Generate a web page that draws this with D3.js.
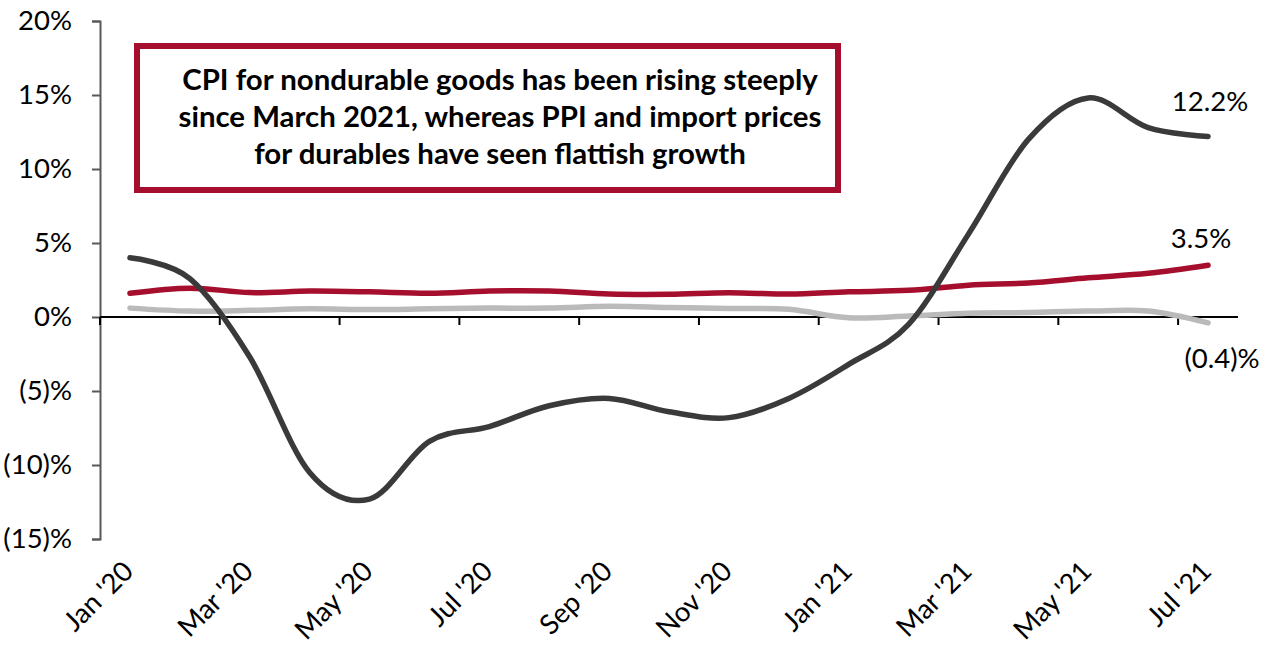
<!DOCTYPE html>
<html>
<head>
<meta charset="utf-8">
<script src="https://cdn.jsdelivr.net/npm/d3@7"></script>
<style>
  html, body { margin: 0; padding: 0; background: #fff; }
  svg { display: block; font-family: Lato, "Open Sans", sans-serif; }
</style>
</head>
<body>
<svg id="chart" width="1269" height="661"></svg>
<script>
const months = ["Jan '20","Feb '20","Mar '20","Apr '20","May '20","Jun '20","Jul '20","Aug '20","Sep '20","Oct '20","Nov '20","Dec '20","Jan '21","Feb '21","Mar '21","Apr '21","May '21","Jun '21","Jul '21"];
const tickLabels = ["Jan '20","Mar '20","May '20","Jul '20","Sep '20","Nov '20","Jan '21","Mar '21","May '21","Jul '21"];
const yTicks = [-15, -10, -5, 0, 5, 10, 15, 20];
const cpiNondurable = [4.0, 2.6, -2.7, -10.5, -12.3, -8.4, -7.4, -6.0, -5.5, -6.4, -6.8, -5.5, -3.2, -0.5, 5.6, 12.0, 14.8, 12.8, 12.2];
const ppiDurable = [1.6, 1.95, 1.65, 1.75, 1.7, 1.6, 1.75, 1.75, 1.55, 1.53, 1.64, 1.55, 1.7, 1.8, 2.15, 2.3, 2.65, 2.95, 3.5];
const importDurable = [0.6, 0.4, 0.45, 0.55, 0.5, 0.55, 0.6, 0.6, 0.72, 0.65, 0.58, 0.52, -0.05, 0.07, 0.25, 0.3, 0.4, 0.4, -0.4];
const titleLines = ["CPI for nondurable goods has been rising steeply", "since March 2021, whereas PPI and import prices", "for durables have seen flattish growth"];

(function () {
const svg = d3.select("#chart");
const mLeft = 100, mRight = 1238, mTop = 21, mBottom = 539;

const x = d3.scaleBand().domain(months).range([mLeft, mRight]).padding(0);
const xc = m => x(m) + x.bandwidth() / 2;
const y = d3.scaleLinear().domain([-15, 20]).range([mBottom, mTop]);
const fmt = v => v < 0 ? `(${-v})%` : `${v}%`;
const fmt1 = v => v < 0 ? `(${d3.format(".1f")(-v)})%` : `${d3.format(".1f")(v)}%`;

// Y axis
const yAxis = svg.append("g")
  .attr("transform", `translate(${mLeft},0)`)
  .call(d3.axisLeft(y).tickValues(yTicks).tickFormat(fmt).tickSize(8).tickSizeOuter(8).tickPadding(20));
yAxis.select(".domain").attr("stroke", "#595959").attr("stroke-width", 2);
yAxis.selectAll(".tick line").attr("stroke", "#595959").attr("stroke-width", 2);
yAxis.selectAll(".tick text").attr("fill", "#000").style("font-size", "27.5px").style("font-family", "Lato, sans-serif");

// X axis (zero line)
const xAxis = svg.append("g").attr("transform", `translate(0,${y(0)})`);
xAxis.append("line").attr("x1", mLeft).attr("x2", mRight).attr("y1", 0).attr("y2", 0)
  .attr("stroke", "#000").attr("stroke-width", 2);
xAxis.selectAll("line.tk").data(months.filter((m, i) => i % 2 === 0)).join("line")
  .attr("class", "tk")
  .attr("x1", d => x(d)).attr("x2", d => x(d))
  .attr("y1", 0).attr("y2", 8).attr("stroke", "#000").attr("stroke-width", 2);

// X labels
svg.append("g").selectAll("text").data(tickLabels).join("text")
  .attr("transform", d => `translate(${xc(d) + 5},573) rotate(-45)`)
  .attr("text-anchor", "end")
  .style("font-size", "27.5px")
  .attr("fill", "#000")
  .text(d => d);

// Lines
const line = d3.line().x((d, i) => xc(months[i])).y(d => y(d)).curve(d3.curveCardinal.tension(0));
const series = [
  { name: "importDurable", values: importDurable, color: "#BABABA" },
  { name: "ppiDurable", values: ppiDurable, color: "#A50F2D" },
  { name: "cpiNondurable", values: cpiNondurable, color: "#3A3A3A" }
];
svg.append("g").selectAll("path").data(series).join("path")
  .attr("d", d => line(d.values))
  .attr("fill", "none")
  .attr("stroke", d => d.color)
  .attr("stroke-width", 5.5)
  .attr("stroke-linecap", "round")
  .attr("stroke-linejoin", "round");

// End labels
const last = months.length - 1;
const endLabels = [
  { v: cpiNondurable[last], dx: 2, dy: -25 },
  { v: ppiDurable[last], dx: -7, dy: -17 },
  { v: importDurable[last], dx: 14, dy: 45 }
];
svg.append("g").selectAll("text").data(endLabels).join("text")
  .attr("x", d => xc(months[last]) + d.dx)
  .attr("y", d => y(d.v) + d.dy)
  .attr("text-anchor", "middle")
  .style("font-size", "27.5px")
  .attr("fill", "#000")
  .text(d => fmt1(d.v));

// Title box
const box = svg.append("g");
box.append("rect").attr("x", 137).attr("y", 46).attr("width", 701).attr("height", 144)
  .attr("fill", "#fff").attr("stroke", "#A50F2D").attr("stroke-width", 6);
box.selectAll("text").data(titleLines).join("text")
  .attr("x", 500)
  .attr("y", (d, i) => 90 + i * 37)
  .attr("text-anchor", "middle")
  .style("font-size", "29.4px")
  .style("font-weight", "bold")
  .attr("fill", "#000")
  .text(d => d);
})();
</script>
</body>
</html>
